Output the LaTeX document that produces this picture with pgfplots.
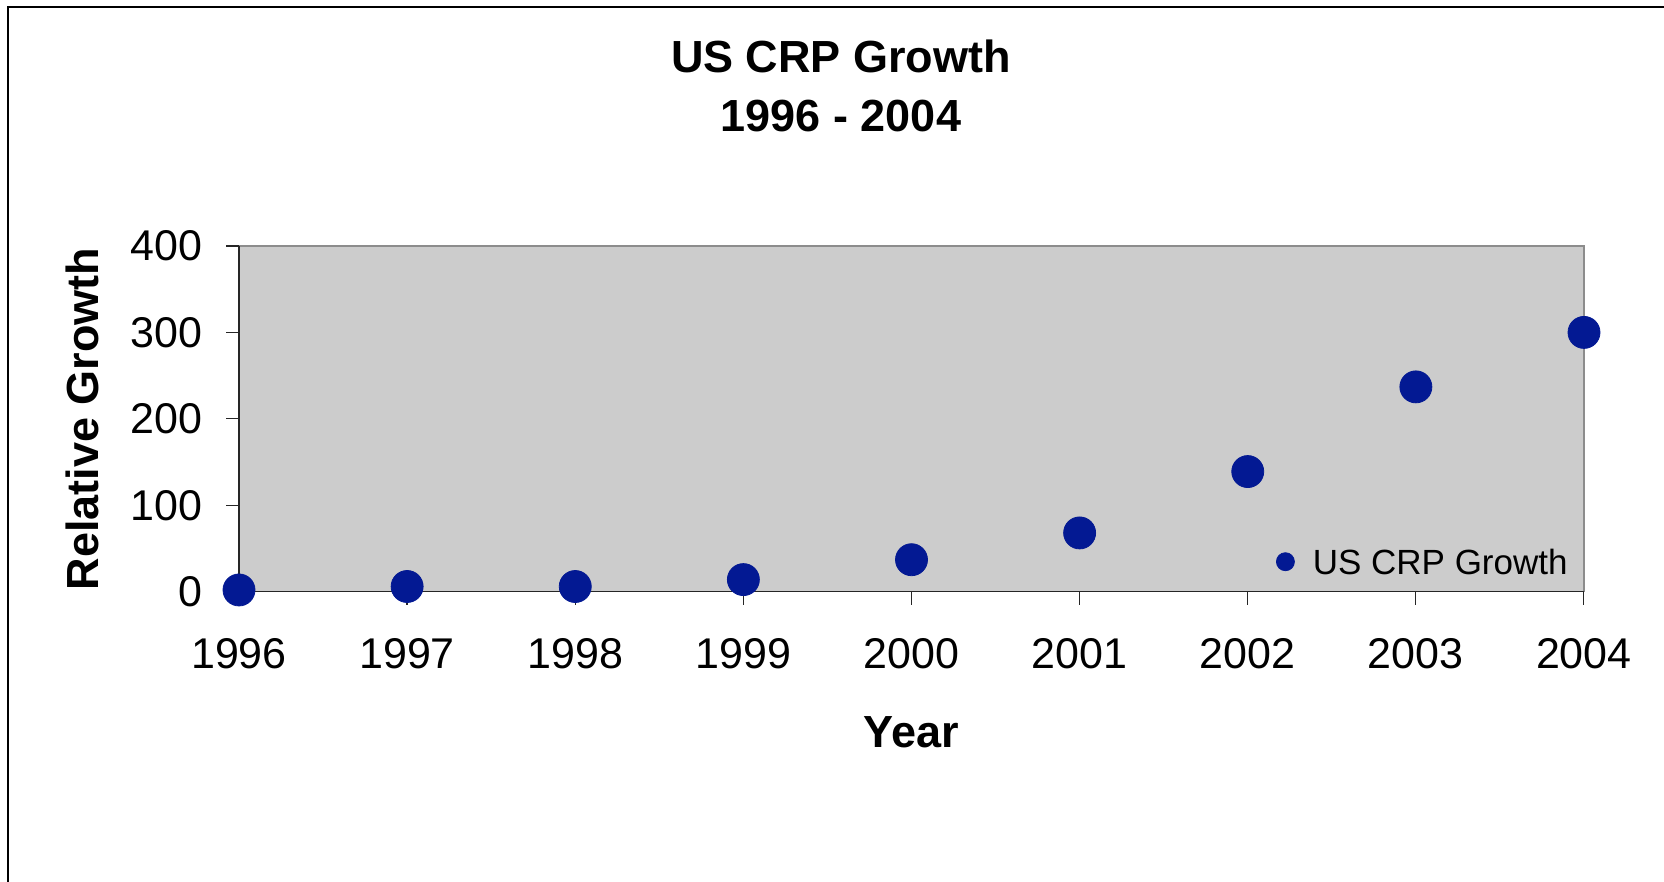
\documentclass[border=0pt]{standalone}
\usepackage{pgfplots}
\pgfplotsset{compat=1.18}
\usepackage{fontspec}
\setmainfont{Liberation Sans}
\definecolor{mk}{RGB}{3,25,147}
\definecolor{plotbg}{RGB}{204,204,204}
\begin{document}
\begin{tikzpicture}
\path[use as bounding box] (0,0) rectangle (832pt,441pt);
\draw[line width=1pt] (3.75pt,0) -- (3.75pt,437.5pt) -- (832pt,437.5pt);
\begin{axis}[
  at={(119.5pt,145.15pt)}, anchor=south west,
  scale only axis, width=672.5pt, height=172.85pt,
  xmin=1996, xmax=2004, ymin=0, ymax=400,
  xtick={1996,...,2004}, ytick={0,100,...,400},
  axis x line*=bottom, axis y line*=left,
  axis line style={black!85, line width=0.6pt, -},
  axis background/.style={fill=plotbg, draw=black!45, line width=0.6pt},
  tick align=outside, major tick length=6.5pt,
  tick style={black!85, line width=0.6pt},
  clip=false,
  /pgf/number format/assume math mode=true,
  /pgf/number format/1000 sep={},
  ticklabel style={font=\fontsize{21.5}{24}\selectfont, inner sep=0pt},
  yticklabel style={anchor=east, xshift=-11.5pt},
  xticklabel style={anchor=north, yshift=-16.5pt},
  title={US CRP Growth\\1996 - 2004},
  title style={at={([xshift=-35.25pt,yshift=50.6pt]axis description cs:0.5,1)}, anchor=south, align=center, font=\bfseries\fontsize{22.5}{29.5}\selectfont, inner sep=0pt},
  xlabel={Year},
  xlabel style={at={([yshift=-62pt]axis description cs:0.5,0)}, anchor=north, font=\bfseries\fontsize{22.5}{27}\selectfont, inner sep=0pt},
  ylabel={Relative Growth},
  ylabel style={at={([xshift=-78.5pt]axis description cs:0,0.5)}, anchor=center, font=\bfseries\fontsize{22.5}{27}\selectfont, inner sep=0pt},
  legend style={at={([xshift=-8pt,yshift=8.45pt]axis description cs:1,0)}, anchor=south east, draw=none, fill=none, inner sep=0pt, font=\fontsize{17.5}{20}\selectfont, nodes={inner sep=0pt, text depth=0pt}},
  legend image code/.code={\fill[mk] (0pt,0pt) circle (4.5pt); \path (13.5pt,0pt);},
]
\addplot[only marks, mark=*, mark size=8pt, color=mk, mark options={fill=mk, draw=mk}]
  coordinates {(1996,2) (1997,6) (1998,6) (1999,14) (2000,37) (2001,68) (2002,139) (2003,237) (2004,300)};
\addlegendentry{US CRP Growth}
\end{axis}
\end{tikzpicture}
\end{document}
